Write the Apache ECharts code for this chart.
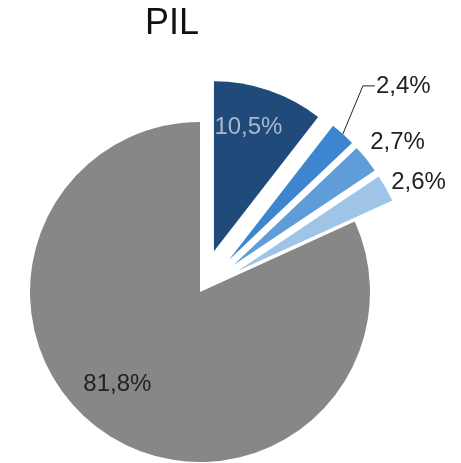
<!DOCTYPE html>
<html>
<head>
<meta charset="utf-8">
<script src="https://cdn.jsdelivr.net/npm/echarts@6/dist/echarts.min.js"></script>
<style>
  html, body { margin: 0; padding: 0; background: #fff; }
  #chart { width: 461px; height: 463px; }
</style>
</head>
<body>
<div id="chart"></div>
<script>
// dati del grafico
const categories = ['Quota 1', 'Quota 2', 'Quota 3', 'Quota 4', 'Resto']
const values = [10.5, 2.4, 2.7, 2.6, 81.8]
const exploded = [true, true, true, true, false]

const colors = ['#1f4a7a', '#3d86cf', '#5f9cd8', '#a0c4e8', '#878787']
// spostamento etichette rispetto alla posizione di default
const labelShift = [[6, -41], [6, -37], [-26, -12], [-24, -3], [-35, 18]]

const myChart = echarts.init(document.getElementById('chart'))

const pieData = values.map(function (v, i) {
  const inside = i === 0 || i === 4
  return {
    name: categories[i],
    value: v,
    selected: exploded[i],
    itemStyle: { color: colors[i] },
    label: {
      position: inside ? 'inside' : 'outside',
      color: i === 0 ? '#aab8cc' : '#222'
    },
    labelLine: { show: i === 1 }
  }
})

const option = {
  animation: false,
  title: {
    text: 'PIL',
    left: 145,
    top: 6,
    padding: 0,
    textStyle: {
      fontFamily: 'Liberation Sans',
      fontSize: 36,
      fontWeight: 'normal',
      color: '#111'
    }
  },
  series: [
    {
      type: 'pie',
      center: [200, 292],
      radius: [0, 170],
      startAngle: 90,
      selectedMode: 'multiple',
      selectedOffset: 43,
      emphasis: { disabled: true },
      label: {
        fontFamily: 'Liberation Sans',
        fontSize: 24,
        formatter: function (p) {
          return p.value.toFixed(1).replace('.', ',') + '%'
        }
      },
      labelLine: {
        length: 15,
        length2: 12,
        lineStyle: { color: '#222', width: 1 }
      },
      labelLayout: function (p) {
        const s = labelShift[p.dataIndex]
        const out = { dx: s[0], dy: s[1] }
        if (p.labelLinePoints) {
          // linea guida: dal bordo della fetta in su, poi orizzontale
          const start = p.labelLinePoints[0]
          const lx = p.labelRect.x + s[0]
          const cy = p.labelRect.y + s[1] + p.labelRect.height / 2
          out.labelLinePoints = [start, [lx - 13, cy], [lx - 1, cy]]
        }
        return out
      },
      data: pieData
    }
  ]
}

myChart.setOption(option)
</script>
</body>
</html>
